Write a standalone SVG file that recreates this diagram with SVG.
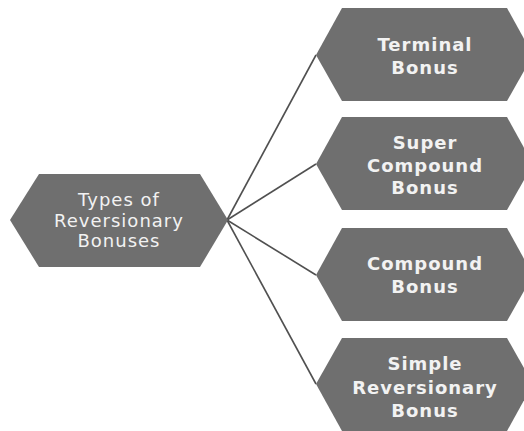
<svg xmlns="http://www.w3.org/2000/svg" width="524" height="431" viewBox="0 0 524 431">
<style>
.hex{fill:#6f6f6f}
.t{fill:#f2f2f2;font-family:"DejaVu Sans",sans-serif;font-size:18px;text-anchor:middle;letter-spacing:1px}
.b{font-weight:bold}
.c{stroke:#505050;stroke-width:1.6;fill:none}
</style>
<rect width="524" height="431" fill="#ffffff"/>
<g id="connectors">
<line class="c" x1="227" y1="220" x2="316" y2="55"/>
<line class="c" x1="227" y1="220" x2="316" y2="164"/>
<line class="c" x1="227" y1="220" x2="316" y2="275"/>
<line class="c" x1="227" y1="220" x2="316" y2="384"/>
</g>
<g id="root">
<polygon class="hex" points="10,220 39,174 200,174 228,220 200,267 39,267"/>
<text class="t" x="119" y="206">Types of</text>
<text class="t" x="119" y="227">Reversionary</text>
<text class="t" x="119" y="247">Bonuses</text>
</g>
<g id="n1">
<polygon class="hex" points="316,55 342,8 507,8 533,55 507,101 342,101"/>
<text class="t b" x="425" y="51">Terminal</text>
<text class="t b" x="425" y="74">Bonus</text>
</g>
<g id="n2">
<polygon class="hex" points="316,164 342,117 507,117 533,164 507,210 342,210"/>
<text class="t b" x="425" y="149">Super</text>
<text class="t b" x="425" y="172">Compound</text>
<text class="t b" x="425" y="194">Bonus</text>
</g>
<g id="n3">
<polygon class="hex" points="316,275 342,228 507,228 533,275 507,321 342,321"/>
<text class="t b" x="425" y="270">Compound</text>
<text class="t b" x="425" y="293">Bonus</text>
</g>
<g id="n4">
<polygon class="hex" points="316,384 342,338 507,338 533,384 507,431 342,431"/>
<text class="t b" x="425" y="370">Simple</text>
<text class="t b" x="425" y="394">Reversionary</text>
<text class="t b" x="425" y="417">Bonus</text>
</g>
</svg>
